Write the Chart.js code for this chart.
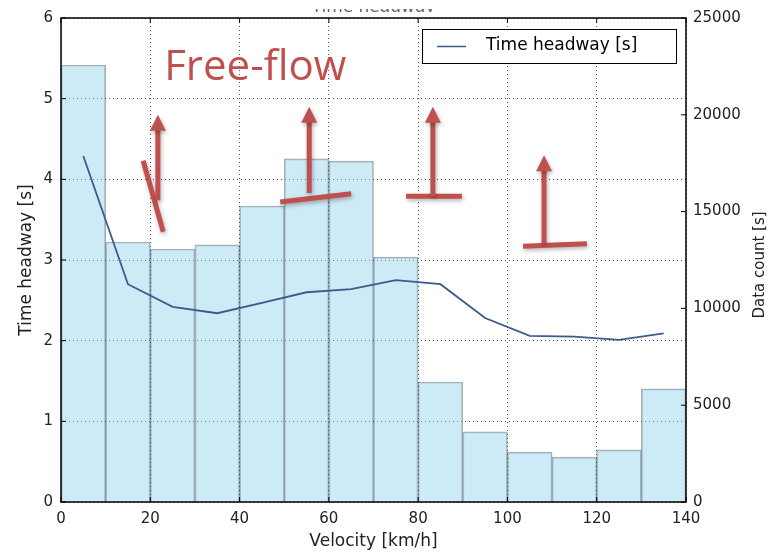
<!DOCTYPE html>
<html>
<head>
<meta charset="utf-8">
<script src="https://cdn.jsdelivr.net/npm/chart.js@4.4.1/dist/chart.umd.min.js"></script>
<style>
  html, body { margin: 0; padding: 0; background: #ffffff; }
  #wrap { width: 774px; height: 552px; position: relative; }
</style>
</head>
<body>
<div id="wrap"><canvas id="chart"></canvas></div>
<script>
// Velocity bin centres [km/h]
const velocity = [5, 15, 25, 35, 45, 55, 65, 75, 85, 95, 105, 115, 125, 135];

// Data count per 10 km/h bin (right axis)
const dataCount = [22570, 13430, 13070, 13280, 15290, 17720, 17610, 12650, 6200, 3620, 2580, 2320, 2690, 5840];

// Mean time headway per bin [s] (left axis)
const headway = [4.29, 2.70, 2.42, 2.34, 2.47, 2.60, 2.64, 2.75, 2.70, 2.28, 2.06, 2.05, 2.01, 2.09];

const xTicks = [0, 20, 40, 60, 80, 100, 120, 140];
const leftTicks = [0, 1, 2, 3, 4, 5, 6];
const rightTicks = [0, 5000, 10000, 15000, 20000, 25000];

// Hand-drawn annotations, in data units (velocity, headway)
const arrows = [
  { x: 21.7, from: 3.74, to: 4.80 },
  { x: 55.6, from: 3.83, to: 4.90 },
  { x: 83.3, from: 3.79, to: 4.90 },
  { x: 108.2, from: 3.21, to: 4.30 },
];
const strokes = [
  [18.4, 4.23, 22.9, 3.35],
  [49.1, 3.72, 65.0, 3.82],
  [77.3, 3.79, 89.8, 3.79],
  [103.5, 3.17, 117.8, 3.20],
];

const RED = "#c0504d";
const LINE = "#3b5b88";
const FONT = "'DejaVu Sans', sans-serif";

const frameAndNotes = {
  id: "frameAndNotes",
  afterDraw(chart) {
    const { ctx, chartArea: a, scales } = chart;
    const xs = scales.x, ys = scales.y;

    // cut-off title at the very top
    ctx.save();
    ctx.beginPath();
    ctx.rect(0, 9, chart.width, 3);
    ctx.clip();
    ctx.fillStyle = "#666";
    ctx.font = "17px " + FONT;
    ctx.textAlign = "center";
    ctx.textBaseline = "alphabetic";
    ctx.fillText("Time headway", (a.left + a.right) / 2, 12);
    ctx.restore();

    // right axis title, reading bottom-to-top
    ctx.save();
    ctx.translate(760, 265);
    ctx.rotate(-Math.PI / 2);
    ctx.fillStyle = "#222";
    ctx.font = "15px " + FONT;
    ctx.textAlign = "center";
    ctx.textBaseline = "middle";
    ctx.fillText("Data count [s]", 0, 0);
    ctx.restore();

    // plot frame
    ctx.save();
    ctx.strokeStyle = "#000";
    ctx.lineWidth = 1.5;
    ctx.strokeRect(a.left, a.top, a.right - a.left, a.bottom - a.top);

    // inward tick marks
    ctx.lineWidth = 1;
    xTicks.forEach(v => {
      const px = xs.getPixelForValue(v);
      ctx.beginPath(); ctx.moveTo(px, a.bottom); ctx.lineTo(px, a.bottom - 5); ctx.stroke();
      ctx.beginPath(); ctx.moveTo(px, a.top); ctx.lineTo(px, a.top + 5); ctx.stroke();
    });
    leftTicks.forEach(v => {
      const py = ys.getPixelForValue(v);
      ctx.beginPath(); ctx.moveTo(a.left, py); ctx.lineTo(a.left + 5, py); ctx.stroke();
    });
    rightTicks.forEach(v => {
      const py = scales.y1.getPixelForValue(v);
      ctx.beginPath(); ctx.moveTo(a.right, py); ctx.lineTo(a.right - 5, py); ctx.stroke();
    });
    ctx.restore();

    // legend box
    ctx.save();
    ctx.fillStyle = "#fff";
    ctx.strokeStyle = "#000";
    ctx.lineWidth = 1;
    ctx.fillRect(422.5, 29.5, 254, 34);
    ctx.strokeRect(422.5, 29.5, 254, 34);
    ctx.strokeStyle = LINE;
    ctx.lineWidth = 1.5;
    ctx.beginPath(); ctx.moveTo(437, 46.5); ctx.lineTo(466, 46.5); ctx.stroke();
    ctx.fillStyle = "#000";
    ctx.font = "17px " + FONT;
    ctx.textBaseline = "middle";
    ctx.fillText(chart.data.datasets[1].label, 486, 46);
    ctx.restore();

    // red annotations
    ctx.save();
    ctx.shadowColor = "rgba(0,0,0,0.3)";
    ctx.shadowBlur = 4;
    ctx.shadowOffsetX = 1;
    ctx.shadowOffsetY = 2;
    ctx.strokeStyle = RED;
    ctx.fillStyle = RED;
    ctx.lineWidth = 5;
    ctx.lineCap = "butt";
    strokes.forEach(s => {
      ctx.beginPath();
      ctx.moveTo(xs.getPixelForValue(s[0]), ys.getPixelForValue(s[1]));
      ctx.lineTo(xs.getPixelForValue(s[2]), ys.getPixelForValue(s[3]));
      ctx.stroke();
    });
    arrows.forEach(ar => {
      const px = xs.getPixelForValue(ar.x);
      const y0 = ys.getPixelForValue(ar.from);
      const y1 = ys.getPixelForValue(ar.to);
      ctx.beginPath();
      ctx.moveTo(px, y0);
      ctx.lineTo(px, y1 + 14);
      ctx.stroke();
      ctx.beginPath();
      ctx.moveTo(px, y1);
      ctx.lineTo(px - 8, y1 + 16);
      ctx.lineTo(px + 8, y1 + 16);
      ctx.closePath();
      ctx.fill();
    });
    ctx.shadowColor = "transparent";
    ctx.font = "42px 'Open Sans', sans-serif";
    ctx.textBaseline = "alphabetic";
    ctx.fillText("Free-flow", xs.getPixelForValue(23.1), ys.getPixelForValue(5.23));
    ctx.restore();
  }
};

new Chart(document.getElementById("chart"), {
  data: {
    datasets: [
      {
        type: "bar",
        label: "Data count",
        data: velocity.map((v, i) => ({ x: v, y: dataCount[i] })),
        yAxisID: "y1",
        backgroundColor: "rgba(135, 206, 235, 0.42)",
        borderColor: "rgba(40, 50, 55, 0.4)",
        borderWidth: 1,
        barPercentage: 1,
        categoryPercentage: 1,
        order: 2,
      },
      {
        type: "line",
        label: "Time headway [s]",
        data: velocity.map((v, i) => ({ x: v, y: headway[i] })),
        yAxisID: "y",
        borderColor: LINE,
        borderWidth: 1.8,
        pointRadius: 0,
        tension: 0,
        order: 1,
      },
    ],
  },
  options: {
    responsive: true,
    maintainAspectRatio: false,
    animation: false,
    layout: { padding: { top: 18, left: 0, right: 0, bottom: 0 } },
    plugins: {
      legend: { display: false },
      tooltip: { enabled: false },
    },
    scales: {
      x: {
        type: "linear",
        offset: false,
        min: 0, max: 140,
        afterBuildTicks: s => { s.ticks = xTicks.map(v => ({ value: v })); },
        afterFit: s => { s.height = 50; },
        grid: { color: "#555", lineWidth: 1, offset: false, drawTicks: false },
        border: { display: false, dash: [1, 3] },
        ticks: { color: "#222", font: { family: FONT, size: 15 }, padding: 8, maxRotation: 0 },
        title: { display: true, text: "Velocity [km/h]", color: "#222", font: { family: FONT, size: 17 }, padding: { top: 0, bottom: 0 } },
      },
      y: {
        position: "left",
        min: 0, max: 6,
        afterBuildTicks: s => { s.ticks = leftTicks.map(v => ({ value: v })); },
        afterFit: s => { s.width = 61; },
        grid: { color: "#555", lineWidth: 1, drawTicks: false },
        border: { display: false, dash: [1, 3] },
        ticks: { color: "#222", font: { family: FONT, size: 15 }, padding: 8 },
        title: { display: true, text: "Time headway [s]", color: "#222", font: { family: FONT, size: 17 }, padding: { top: 16, bottom: 0 } },
      },
      y1: {
        position: "right",
        min: 0, max: 25000,
        afterBuildTicks: s => { s.ticks = rightTicks.map(v => ({ value: v })); },
        afterFit: s => { s.width = 88; },
        grid: { display: false, drawTicks: false },
        border: { display: false },
        ticks: { color: "#222", font: { family: FONT, size: 15 }, padding: 7, callback: v => String(v) },
      },
    },
  },
  plugins: [frameAndNotes],
});
</script>
</body>
</html>
